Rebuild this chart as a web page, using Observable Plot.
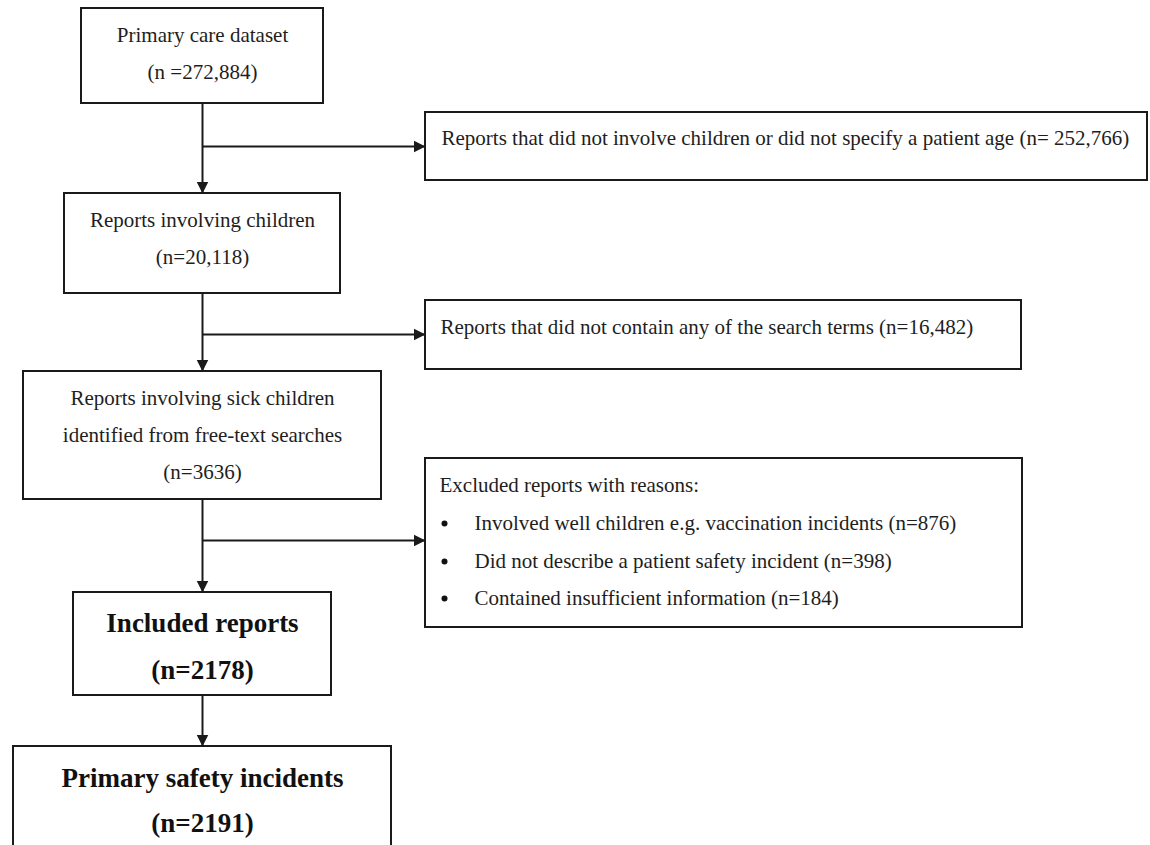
<!DOCTYPE html>
<html>
<head>
<meta charset="utf-8">
<script src="https://cdn.jsdelivr.net/npm/d3@7"></script>
<script src="https://cdn.jsdelivr.net/npm/@observablehq/plot@0.6"></script>
<style>
  html, body { margin: 0; padding: 0; background: #fff; }
  #chart svg { display: block; }
</style>
</head>
<body>
<div id="chart"></div>
<script>
// ---- Data (text content of the flow diagram) ----
const stageTitles = [
  ["Primary care dataset"],
  ["Reports involving children"],
  ["Reports involving sick children", "identified from free-text searches"],
  ["Included reports"],
  ["Primary safety incidents"]
];
const stageCounts = ["(n =272,884)", "(n=20,118)", "(n=3636)", "(n=2178)", "(n=2191)"];
const stageBold = [false, false, false, true, true];

const exclusionTexts = [
  "Reports that did not involve children or did not specify a patient age (n= 252,766)",
  "Reports that did not contain any of the search terms (n=16,482)",
  "Excluded reports with reasons:"
];
const exclusionReasons = [
  "Involved well children e.g. vaccination incidents (n=876)",
  "Did not describe a patient safety incident (n=398)",
  "Contained insufficient information (n=184)"
];

// ---- Layout (diagram geometry, in page pixels) ----
const W = 1150, H = 845;
const spineX = 202;
const mainBoxes = [
  {x1: 81, x2: 323, y1: 8,   y2: 103, lines: [35, 72]},
  {x1: 64, x2: 340, y1: 193, y2: 293, lines: [220, 257]},
  {x1: 23, x2: 381, y1: 371, y2: 499, lines: [398, 435, 472]},
  {x1: 73, x2: 331, y1: 592, y2: 695, lines: [623, 670]},
  {x1: 13, x2: 391, y1: 746, y2: 870, lines: [778, 823]}
];
const sideBoxes = [
  {x1: 425, x2: 1147, y1: 112, y2: 180, branchY: 146, textX: 441, textY: 138},
  {x1: 425, x2: 1021, y1: 300, y2: 369, branchY: 334, textX: 440, textY: 327},
  {x1: 425, x2: 1022, y1: 458, y2: 627, branchY: 540, textX: 439, textY: 485}
];
const reasonRows = [523, 561, 598];
const bulletX = 444, reasonX = 474;

// ---- Derived tables for the marks ----
const boxes = [...mainBoxes, ...sideBoxes].map(b => ({x1: b.x1, x2: b.x2, y1: b.y1, y2: b.y2}));

const mainText = [];
mainBoxes.forEach((b, i) => {
  const lines = [...stageTitles[i], stageCounts[i]];
  lines.forEach((t, j) => mainText.push({
    x: (b.x1 + b.x2) / 2, y: b.lines[j], text: t, bold: stageBold[i]
  }));
});

const sideText = sideBoxes.map((b, i) => ({x: b.textX, y: b.textY, text: exclusionTexts[i]}));
const reasonText = exclusionReasons.map((t, i) => ({x: reasonX, y: reasonRows[i], text: t}));
const bullets = exclusionReasons.map((t, i) => ({x: bulletX, y: reasonRows[i]}));

// vertical arrows between main boxes
const downArrows = mainBoxes.slice(0, -1).map((b, i) => ({
  x1: spineX, y1: b.y2, x2: spineX, y2: mainBoxes[i + 1].y1
}));
// horizontal branches to exclusion boxes
const sideArrows = sideBoxes.map(b => ({x1: spineX, y1: b.branchY, x2: b.x1, y2: b.branchY}));
const arrows = [...downArrows, ...sideArrows];

// filled triangular arrow head
function triangleHead(color, context) {
  return d3.create("svg:marker")
    .attr("viewBox", "-6 -6 12 12")
    .attr("markerUnits", "userSpaceOnUse")
    .attr("markerWidth", 13)
    .attr("markerHeight", 13)
    .attr("refX", 5)
    .attr("refY", 0)
    .attr("orient", "auto")
    .attr("fill", color)
    .attr("stroke", "none")
    .call(m => m.append("path").attr("d", "M-6,-5.5L5,0L-6,5.5Z"))
    .node();
}

const serif = "'Liberation Serif', 'Times New Roman', 'DejaVu Serif', serif";

const chart = Plot.plot({
  width: W,
  height: H,
  margin: 0,
  x: {domain: [0, W], range: [0, W], axis: null},
  y: {domain: [0, H], range: [0, H], axis: null},
  style: {background: "#fff", fontFamily: serif},
  marks: [
    Plot.rect(boxes, {x1: "x1", x2: "x2", y1: "y1", y2: "y2", fill: "white", stroke: "#1a1a1a", strokeWidth: 2}),
    Plot.link(arrows, {x1: "x1", y1: "y1", x2: "x2", y2: "y2", stroke: "#1a1a1a", strokeWidth: 2, markerEnd: triangleHead}),
    Plot.text(mainText.filter(d => !d.bold), {x: "x", y: "y", text: "text", fontSize: 21, fontFamily: serif, fill: "#1e1e1e", lineAnchor: "middle"}),
    Plot.text(mainText.filter(d => d.bold), {x: "x", y: "y", text: "text", fontSize: 27, fontWeight: "bold", fontFamily: serif, fill: "#111", lineAnchor: "middle"}),
    Plot.text(sideText, {x: "x", y: "y", text: "text", fontSize: 21, fontFamily: serif, fill: "#1e1e1e", textAnchor: "start", lineAnchor: "middle"}),
    Plot.text(reasonText, {x: "x", y: "y", text: "text", fontSize: 21, fontFamily: serif, fill: "#1e1e1e", textAnchor: "start", lineAnchor: "middle"}),
    Plot.dot(bullets, {x: "x", y: "y", r: 3, fill: "#111", stroke: "none"})
  ]
});
document.getElementById("chart").appendChild(chart);
</script>
</body>
</html>
